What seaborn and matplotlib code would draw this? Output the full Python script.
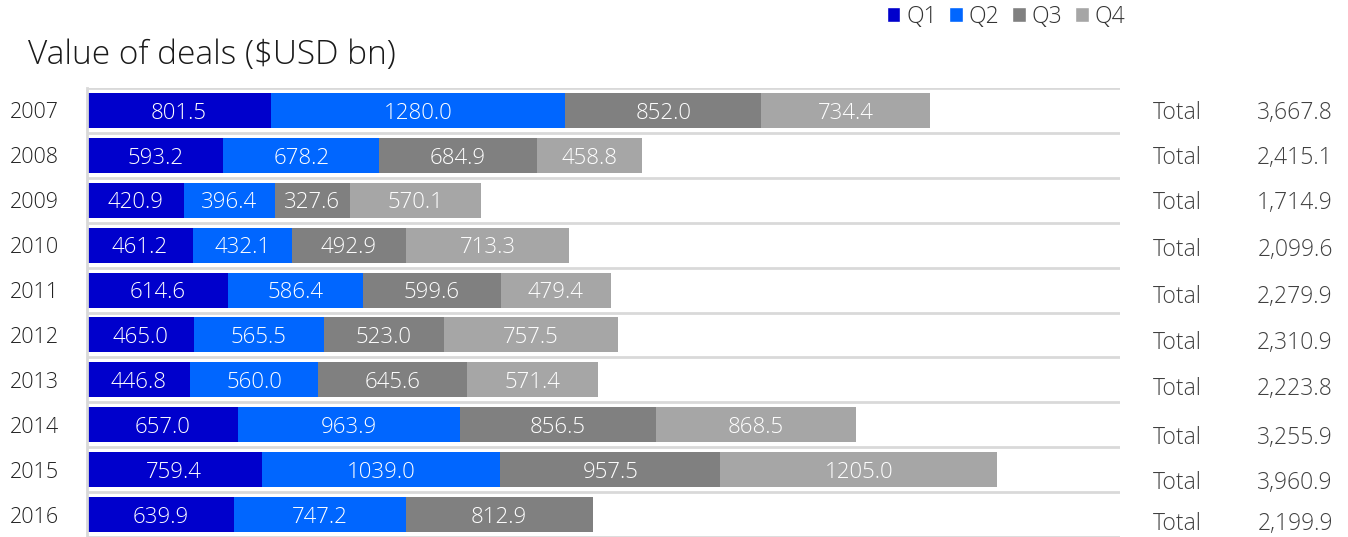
import numpy as np
import pandas as pd
import matplotlib
matplotlib.use("Agg")
import matplotlib.pyplot as plt
import seaborn as sns
from matplotlib.patches import Patch

years = ["2007", "2008", "2009", "2010", "2011", "2012", "2013", "2014", "2015", "2016"]
q1 = [801.5, 593.2, 420.9, 461.2, 614.6, 465.0, 446.8, 657.0, 759.4, 639.9]
q2 = [1280.0, 678.2, 396.4, 432.1, 586.4, 565.5, 560.0, 963.9, 1039.0, 747.2]
q3 = [852.0, 684.9, 327.6, 492.9, 599.6, 523.0, 645.6, 856.5, 957.5, 812.9]
q4 = [734.4, 458.8, 570.1, 713.3, 479.4, 757.5, 571.4, 868.5, 1205.0, 0.0]
totals = ["3,667.8", "2,415.1", "1,714.9", "2,099.6", "2,279.9", "2,310.9",
          "2,223.8", "3,255.9", "3,960.9", "2,199.9"]
quarters = ["Q1", "Q2", "Q3", "Q4"]
colors = ["#0000CC", "#0066FF", "#808080", "#A6A6A6"]
# small vertical drift of the "Total" column in the original (row units)
total_drift = (0.0, 0.0, 0.0, 0.05, 0.09, 0.11, 0.15, 0.24, 0.24, 0.16)

sns.set_theme(style="white")
plt.rcParams["font.family"] = ["Open Sans", "DejaVu Sans"]
plt.rcParams["font.weight"] = "light"

df = pd.DataFrame({"year": years, "Q1": q1, "Q2": q2, "Q3": q3, "Q4": q4})
cum = df[quarters].cumsum(axis=1)

fig = plt.figure(figsize=(13.48, 5.37), dpi=100)
ax = fig.add_axes([87 / 1348, 0.0, (1120 - 87) / 1348, (537 - 88) / 537])

# draw cumulative layers, longest first
for q, c in zip(reversed(quarters), reversed(colors)):
    sns.barplot(x=cum[q], y=df["year"], orient="h", color=c, width=0.78,
                ax=ax, linewidth=0, saturation=1)

# segment labels
for i in range(len(years)):
    left = 0.0
    for q in quarters:
        v = df.loc[i, q]
        if v > 0:
            ax.text(left + v / 2, i + 0.06, f"{v:.1f}", ha="center", va="center",
                    color="white", fontsize=16)
        left += v
    ax.text(1.032, i + 0.06 + total_drift[i], "Total", transform=ax.get_yaxis_transform(),
            ha="left", va="center", fontsize=16.5, color="#404040")
    ax.text(1.206, i + 0.06 + total_drift[i], totals[i], transform=ax.get_yaxis_transform(),
            ha="right", va="center", fontsize=16.5, color="#404040")

ax.set_xlim(0, 4495)
ax.set_ylim(9.5, -0.5)
ax.set_xlabel("")
ax.set_ylabel("")
ax.set_xticks([])
ax.set_yticks(range(len(years)))
ax.set_yticklabels(years, fontsize=15.5, color="#222222")
ax.tick_params(axis="y", length=0, pad=20)
ax.set_yticks(np.arange(-0.5, 10, 1), minor=True)
ax.tick_params(axis="y", which="minor", length=0)
ax.grid(which="minor", axis="y", color="#D9D9D9", linewidth=2)
ax.set_axisbelow(True)
for s in ["top", "right", "bottom"]:
    ax.spines[s].set_visible(False)
ax.spines["left"].set_color("#D9D9D9")
ax.spines["left"].set_linewidth(2)

fig.text(28 / 1348, 1 - 64 / 537, "Value of deals ($USD bn)", fontsize=24,
         color="#1a1a1a", ha="left", va="baseline")

handles = [Patch(facecolor=c, label=q) for q, c in zip(quarters, colors)]
fig.legend(handles=handles, loc="upper right", bbox_to_anchor=(1146 / 1348, 1.03),
           ncol=4, frameon=False, fontsize=16.5, handlelength=0.6, handleheight=0.6,
           handletextpad=0.25, columnspacing=0.55, labelcolor="#333333")

fig.savefig("out.png", dpi=100)
